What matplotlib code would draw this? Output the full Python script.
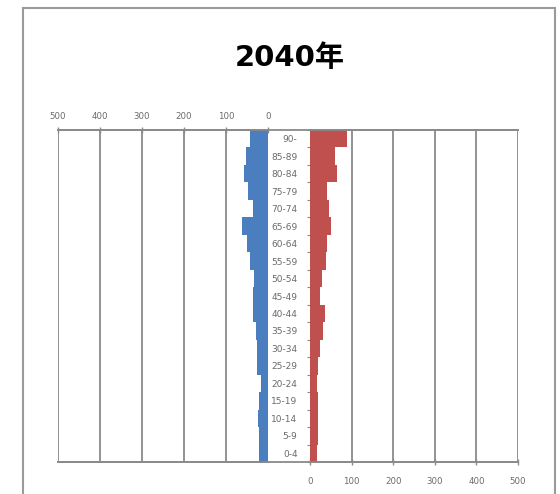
import matplotlib
matplotlib.use("Agg")
import matplotlib.pyplot as plt
from matplotlib.patches import Rectangle
from matplotlib.lines import Line2D

AGE_GROUPS = ["0-4", "5-9", "10-14", "15-19", "20-24", "25-29", "30-34",
              "35-39", "40-44", "45-49", "50-54", "55-59", "60-64", "65-69",
              "70-74", "75-79", "80-84", "85-89", "90-"]
MALE = [21, 22, 24, 21, 16, 26, 26, 29, 36, 36, 34, 43, 50, 61, 36, 48, 56, 52, 43]
FEMALE = [17, 19, 19, 20, 16, 20, 25, 31, 35, 25, 28, 39, 42, 50, 45, 40, 64, 60, 89]
TICKS = [0, 100, 200, 300, 400, 500]

BLUE = "#4a7ebf"
RED = "#c0504d"
GRID = "#8a8a8a"
TEXT = "#6a6a6a"

fig = plt.figure(figsize=(5.6, 4.94), dpi=100)
fig.patches.append(Rectangle((23 / 560, -0.01), 532 / 560, 1 - 8 / 494 + 0.01,
                             transform=fig.transFigure, fill=False,
                             edgecolor="#9a9a9a", linewidth=1.5))
fig.text(0.518, 0.883, "2040年", ha="center", va="center", fontsize=21,
         fontweight="bold", family=["DejaVu Sans", "Noto Sans CJK JP"])

bottom, height = 1 - 462 / 494, (462 - 130) / 494
ax_l = fig.add_axes([58 / 560, bottom, 210 / 560, height])
ax_r = fig.add_axes([310 / 560, bottom, 208 / 560, height])

# horizontal axis lines run across the centre gap
for y in (bottom, bottom + height):
    fig.lines.append(Line2D([58 / 560, 518 / 560], [y, y], color=GRID,
                            linewidth=1.3, transform=fig.transFigure))

pos = list(range(len(AGE_GROUPS)))
ax_l.barh(pos, MALE, height=1.0, color=BLUE, zorder=3)
ax_r.barh(pos, FEMALE, height=1.0, color=RED, zorder=3)

for ax in (ax_l, ax_r):
    ax.set_ylim(-0.5, len(AGE_GROUPS) - 0.5)
    ax.set_xticks(TICKS)
    ax.xaxis.grid(True, color=GRID, linewidth=1.3, zorder=1)
    for side in ("top", "bottom"):
        ax.spines[side].set_color(GRID)
        ax.spines[side].set_linewidth(1.3)
    ax.spines["left"].set_visible(False)
    ax.spines["right"].set_visible(False)
    ax.tick_params(axis="x", direction="inout", length=5, width=1.0,
                   color=GRID, labelsize=6.2, labelcolor=TEXT)

ax_l.set_xlim(500, 0)
ax_l.xaxis.tick_top()
ax_l.tick_params(axis="x", pad=4)
ax_l.set_yticks([])

ax_r.set_xlim(0, 500)
ax_r.set_yticks([p - 0.5 for p in pos] + [len(pos) - 0.5], minor=True)
ax_r.set_yticks(pos)
ax_r.set_yticklabels(AGE_GROUPS)
ax_r.tick_params(axis="y", which="major", length=0, pad=9,
                 labelsize=6.5, labelcolor=TEXT)
ax_r.tick_params(axis="y", which="minor", direction="out", length=2,
                 color=GRID, width=0.8)
ax_r.tick_params(axis="x", pad=8)

fig.savefig("out.png", dpi=100)
